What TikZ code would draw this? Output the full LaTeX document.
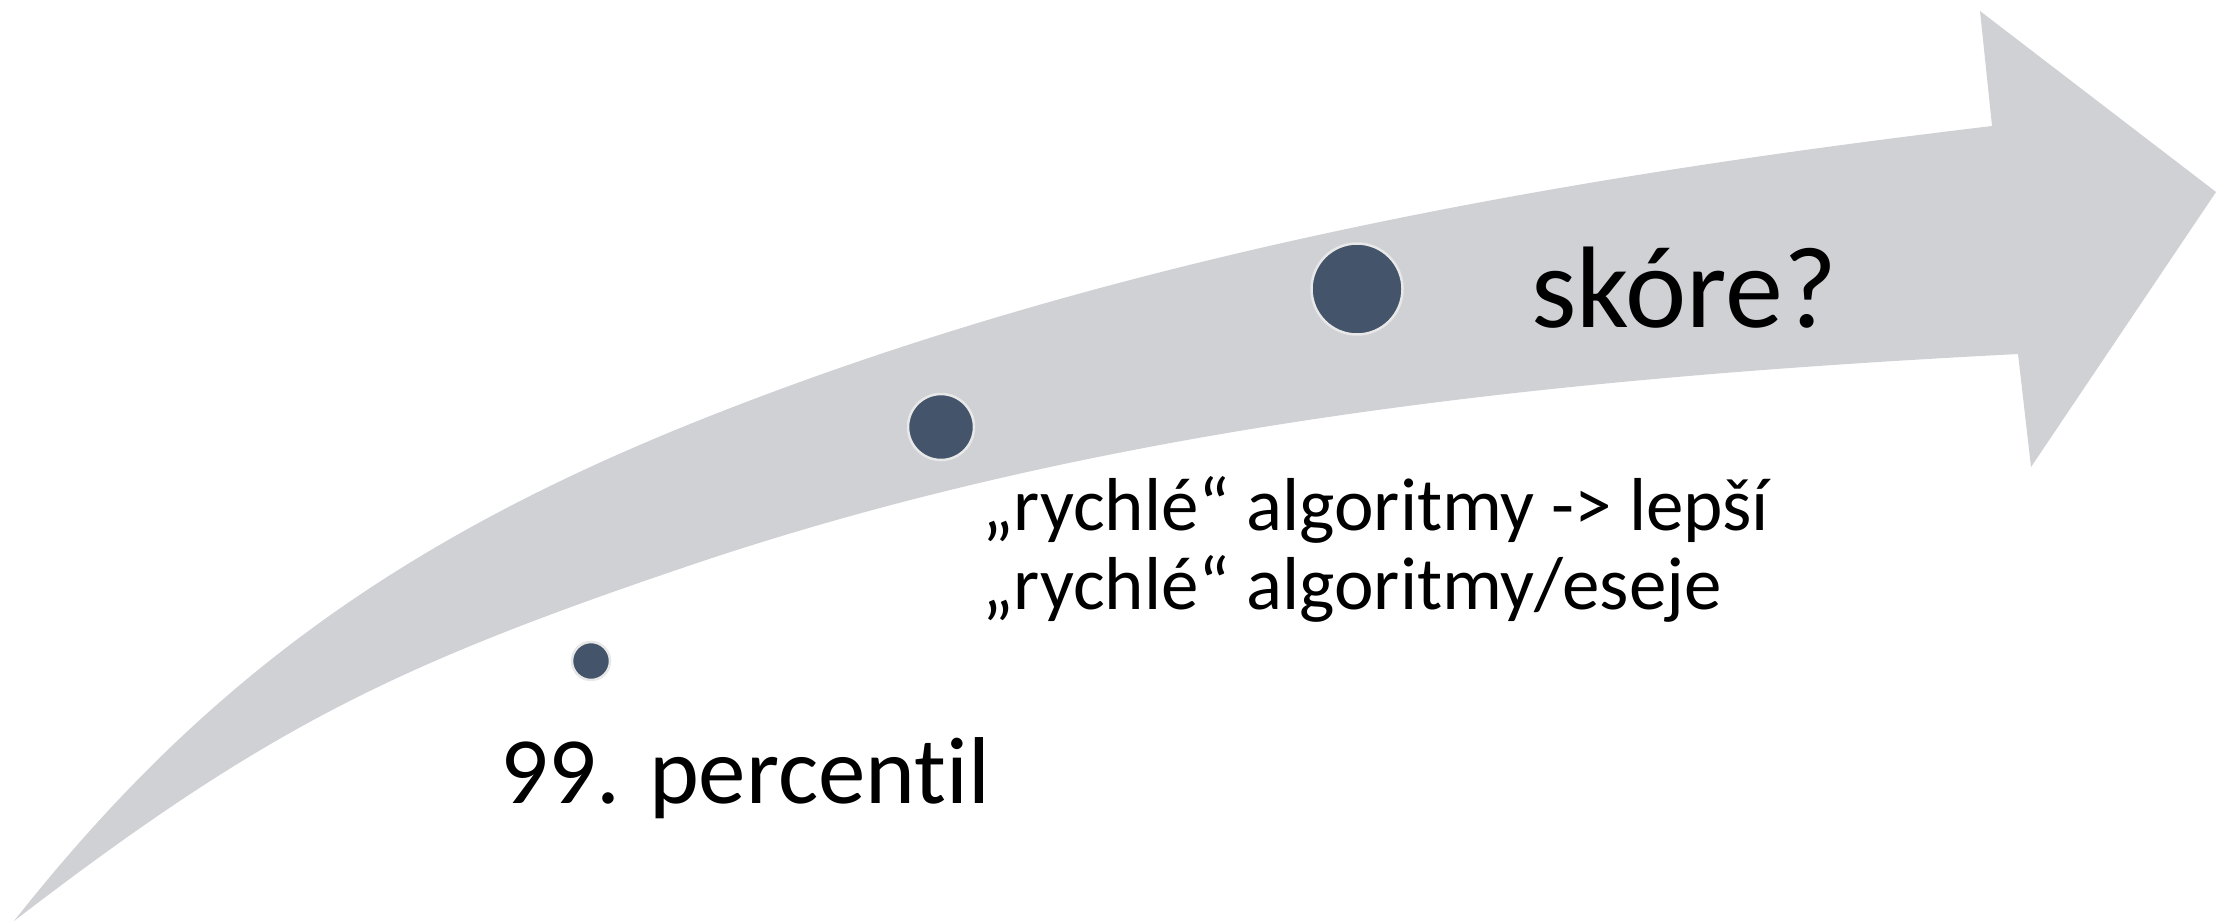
\documentclass[tikz,border=0pt]{standalone}
\usepackage{fontspec}
\setmainfont{Carlito}[Ligatures=NoCommon]
\definecolor{band}{RGB}{208,209,213}
\definecolor{dot}{RGB}{68,84,106}
\definecolor{dotrim}{RGB}{232,232,232}
\begin{document}
\begin{tikzpicture}[x=1pt,y=-1pt,
  milestone/.style={circle, fill=dot, draw=dotrim, line width=2.5pt, inner sep=0pt, minimum size=#1},
  caption/.style={anchor=base west, inner sep=0pt, text=black}]
\useasboundingbox (0,0) rectangle (2216,922);
% curved arrow band: upper edge, head, lower edge
\fill[band]
  (14,921) .. controls (198,688) and (394,542) .. (700,420)
           .. controls (1108,257) and (1555,178) .. (1992,126)
  -- (1980,11) -- (2216,192) -- (2031,467) -- (2018,354)
           .. controls (1574,377) and (1122,421) .. (700,562)
           .. controls (397,664) and (268,726) .. (14,921)
  -- cycle;
% milestones
\node[milestone=38pt] (p1) at (591,661) {};
\node[milestone=66pt] (p2) at (941,427) {};
\node[milestone=91pt] (p3) at (1357,289) {};
% captions
\node[caption, font=\fontsize{95}{100}\selectfont] (t1) at (500,803) {99. percentil};
\node[caption, font=\fontsize{75}{80}\selectfont] (t2a) at (982,530) {„rychlé“ algoritmy -> lepší};
\node[caption, font=\fontsize{75}{80}\selectfont] (t2b) at (982,609) {„rychlé“ algoritmy/eseje};
\node[caption, font=\fontsize{116}{120}\selectfont] (t3) at (1531,327) {skóre?};
\end{tikzpicture}
\end{document}
